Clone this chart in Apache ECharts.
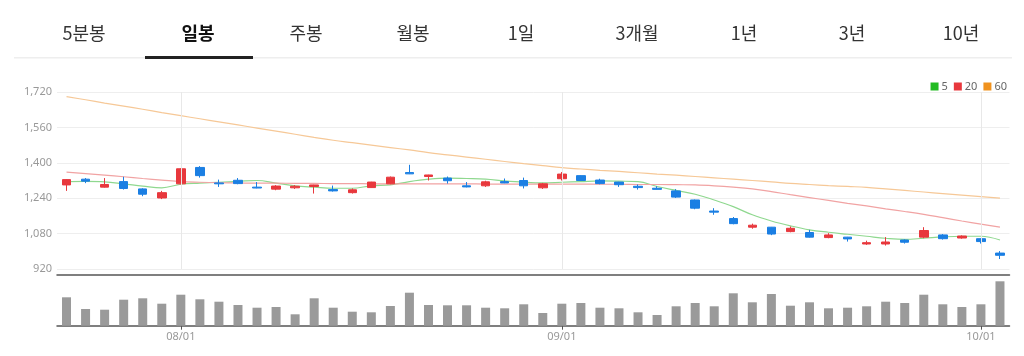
<!DOCTYPE html>
<html>
<head>
<meta charset="utf-8">
<script src="https://cdn.jsdelivr.net/npm/echarts@6/dist/echarts.min.js"></script>
<style>
html,body{margin:0;padding:0;background:#fff;}
#c{width:1024px;height:356px;}
</style>
</head>
<body>
<div id="c"></div>
<script>
const tabs = ['5분봉','일봉','주봉','월봉','1일','3개월','1년','3년','10년'];
const tabCenters = [84,198,306,413,521,637,744,852,961];
const activeTab = 1;

const dates = ['07/24','07/25','07/28','07/29','07/30','07/31',
'08/01','08/04','08/05','08/06','08/07','08/08','08/11','08/12','08/13','08/14','08/18','08/19','08/20','08/21','08/22','08/25','08/26','08/27','08/28','08/29',
'09/01','09/02','09/03','09/04','09/05','09/08','09/09','09/10','09/11','09/12','09/15','09/16','09/17','09/18','09/19','09/22','09/23','09/24','09/25','09/26','09/29','09/30',
'10/01','10/02'];

const opens  = [1300,1326,1290,1315,1282,1241,1305,1379,1309,1321,1290,1281,1287,1293,1279,1265,1288,1305,1356,1338,1331,1296,1296,1315,1320,1287,1328,1342,1322,1313,1294,1285,1273,1232,1182,1148,1109,1109,1089,1085,1062,1064,1033,1033,1051,1064,1074,1060,1057,992];
const closes = [1324,1317,1302,1284,1258,1265,1373,1342,1305,1306,1286,1295,1294,1300,1273,1278,1313,1335,1350,1345,1319,1291,1314,1309,1296,1305,1349,1320,1306,1301,1288,1280,1245,1195,1177,1125,1118,1078,1104,1064,1074,1056,1039,1042,1041,1094,1057,1069,1044,982];
const lows   = [1273,1308,1288,1279,1249,1236,1303,1333,1291,1303,1285,1276,1282,1261,1270,1261,1287,1303,1349,1320,1306,1289,1291,1308,1284,1282,1320,1318,1303,1291,1279,1279,1241,1190,1165,1122,1102,1073,1086,1062,1059,1044,1029,1026,1035,1059,1053,1057,1035,965];
const highs  = [1326,1331,1331,1337,1285,1273,1376,1385,1324,1331,1313,1299,1299,1301,1297,1284,1314,1338,1391,1346,1338,1313,1319,1329,1333,1309,1358,1344,1328,1314,1302,1294,1281,1234,1195,1155,1125,1110,1112,1097,1082,1065,1048,1064,1054,1109,1078,1072,1059,1001];

const ma5  = [1315,1316,1314,1305,1295,1287,1303,1308,1312,1316,1320,1308,1296,1290,1285,1285,1296,1300,1315,1326,1331,1329,1326,1318,1312,1309,1312,1315,1318,1317,1315,1293,1275,1258,1232,1202,1165,1137,1115,1097,1086,1077,1068,1059,1054,1059,1065,1068,1068,1051];
const ma20 = [1358,1351,1344,1337,1329,1322,1315,1312,1310,1309,1308,1308,1307,1307,1306,1306,1305,1305,1305,1305,1305,1305,1304,1304,1304,1304,1304,1304,1303,1303,1302,1302,1301,1300,1296,1290,1282,1270,1256,1243,1230,1217,1205,1192,1180,1167,1152,1137,1123,1109];
const ma60 = [1699,1685,1670,1656,1642,1627,1613,1599,1585,1571,1557,1543,1529,1515,1502,1491,1480,1469,1458,1446,1436,1426,1416,1406,1396,1387,1378,1372,1366,1361,1355,1349,1344,1338,1332,1326,1320,1314,1307,1302,1297,1293,1289,1282,1275,1268,1261,1254,1247,1240];

const volumes = [284000,167000,160000,260000,274000,220000,310000,264000,240000,207000,180000,187000,114000,274000,180000,140000,134000,197000,330000,207000,204000,204000,180000,174000,214000,127000,220000,227000,180000,174000,134000,107000,194000,227000,194000,324000,234000,317000,200000,234000,174000,180000,194000,240000,227000,310000,214000,187000,214000,444000];

const maNames = ['5','20','60'];

const UP = '#e8383d', DOWN = '#1b7fe3';
const candleData = opens.map((o,i)=>[o, closes[i], lows[i], highs[i]]);
const isMonthStart = (i)=> dates[i].slice(3) === '01';
const monthStarts = dates.filter((d,i)=>isMonthStart(i));

const graphics = [];
tabs.forEach((t,i)=>{
  graphics.push({
    type:'text', position:[tabCenters[i],33], silent:true,
    style:{ text:t, x:0, y:0, align:'center', verticalAlign:'middle',
      font: (i===activeTab?'bold ':'') + '18px "Noto Sans CJK KR", sans-serif',
      fill: i===activeTab ? '#111' : '#333' }
  });
});
graphics.push({type:'rect', shape:{x:14,y:57,width:998,height:1.5}, style:{fill:'#eeeeee'}, silent:true});
graphics.push({type:'rect', shape:{x:145,y:56,width:108,height:3}, style:{fill:'#222'}, silent:true});

const chart = echarts.init(document.getElementById('c'), null, {renderer:'canvas'});
chart.setOption({
  animation:false,
  graphic: graphics,
  legend: {
    right: 12, top: 76, icon:'rect', itemWidth:8, itemHeight:8, itemGap:6,
    textStyle:{ color:'#666', fontSize:11, fontFamily:'Noto Sans', padding:[0,0,0,-2] },
    data: maNames
  },
  grid: [
    { left:57, width:952.5, top:92, height:177 },
    { left:57, width:952.5, top:281, height:44.7 }
  ],
  xAxis: [
    { type:'category', gridIndex:0, data:dates, boundaryGap:true,
      offset:6,
      axisLine:{ show:true, lineStyle:{ color:'#555', width:1.5 } },
      axisTick:{ show:false }, axisLabel:{ show:false },
      splitLine:{ show:false } },
    { type:'category', gridIndex:1, data:dates, boundaryGap:true,
      axisLine:{ show:true, lineStyle:{ color:'#555', width:1.5 } },
      axisTick:{ show:true, alignWithLabel:true, interval:(i)=>isMonthStart(i), length:4, lineStyle:{ color:'#555' } },
      axisLabel:{ show:true, interval:(i)=>isMonthStart(i), color:'#999', fontSize:11, fontFamily:'Noto Sans', margin:6 },
      splitLine:{ show:false } }
  ],
  yAxis: [
    { type:'value', gridIndex:0, min:920, max:1720, interval:160, position:'left',
      axisLine:{ show:false }, axisTick:{ show:false },
      axisLabel:{ color:'#999', fontSize:11, fontFamily:'Noto Sans', margin:5,
        formatter:(v)=> v.toLocaleString('en-US') },
      splitLine:{ show:true, lineStyle:{ color:'#eeeeee' } } },
    { type:'value', gridIndex:1, min:0, max:447000,
      axisLine:{ show:false }, axisTick:{ show:false }, axisLabel:{ show:false }, splitLine:{ show:false } }
  ],
  series: [
    { name:'candle', type:'candlestick', xAxisIndex:0, yAxisIndex:0, data:candleData, barWidth:9,
      itemStyle:{ color:UP, color0:DOWN, borderColor:UP, borderColor0:DOWN, borderWidth:1 },
      markLine:{ silent:true, symbol:'none', label:{ show:false }, animation:false,
        lineStyle:{ color:'#e8e8e8', width:1, type:'solid' },
        data: monthStarts.map(d=>({ xAxis:d })) },
      z:3 },
    { name:'5', type:'line', xAxisIndex:0, yAxisIndex:0, data:ma5, smooth:0.4, symbol:'none',
      itemStyle:{ color:'#22bb22' }, lineStyle:{ color:'#8fd88f', width:1.2 } },
    { name:'20', type:'line', xAxisIndex:0, yAxisIndex:0, data:ma20, smooth:0.4, symbol:'none',
      itemStyle:{ color:'#e8383d' }, lineStyle:{ color:'#f1a3a3', width:1.2 } },
    { name:'60', type:'line', xAxisIndex:0, yAxisIndex:0, data:ma60, smooth:0.4, symbol:'none',
      itemStyle:{ color:'#f0921e' }, lineStyle:{ color:'#f6c897', width:1.2 } },
    { name:'volume', type:'bar', xAxisIndex:1, yAxisIndex:1, data:volumes, barWidth:9,
      itemStyle:{ color:'#9a9a9a' } }
  ]
});
</script>
</body>
</html>
